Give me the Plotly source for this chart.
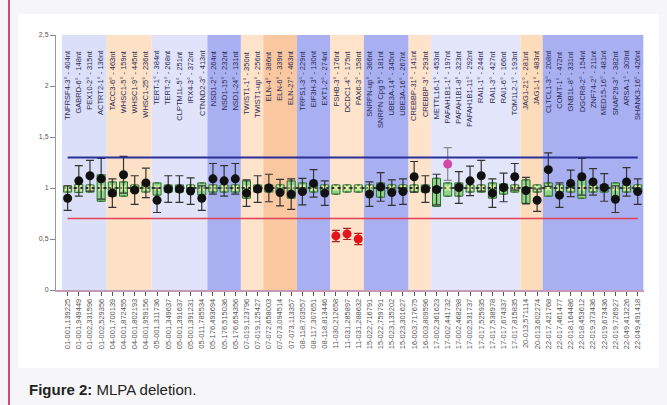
import plotly.graph_objects as go

# ---------------- data ----------------
probes = [
    "TNFRSF4-3° - 404nt", "GABRD-6° - 148nt", "PEX10-2° - 315nt", "ACTRT2-1° - 136nt",
    "TACC3-6° - 463nt", "WHSC1-5° - 159nt", "WHSC1-9° - 445nt", "WHSC1-25° - 236nt",
    "TERT-1° - 384nt", "TERT-2° - 268nt", "CLPTM1L-5° - 251nt", "IRX4-3° - 372nt", "CTNND2-3° - 413nt",
    "NSD1-2° - 264nt", "NSD1-15° - 232nt", "NSD1-24° - 131nt",
    "TWIST1-1° - 350nt", "TWIST1-up° - 256nt",
    "ELN-4° - 386nt", "ELN-6° - 339nt", "ELN-27° - 463nt",
    "TRPS1-3° - 229nt", "EIF3H-3° - 130nt", "EXT1-2° - 274nt",
    "FSHB-3° - 176nt", "DCDC1-4° - 175nt", "PAX6-3° - 158nt",
    "SNRPN-up° - 366nt", "SNRPN Cpg 5° - 181nt", "UBE3A-14° - 345nt", "UBE3A-16° - 267nt",
    "CREBBP-31° - 141nt", "CREBBP-3° - 293nt",
    "METTL16-1° - 453nt", "PAFAH1B1-1° - 197nt", "PAFAH1B1-8° - 323nt", "PAFAH1B1-11° - 292nt",
    "RAI1-1° - 244nt", "RAI1-3° - 427nt", "RAI1-6° - 166nt", "TOM1L2-1° - 193nt",
    "JAG1-21° - 281nt", "JAG1-1° - 483nt",
    "CLTCL1-3° - 208nt", "COMT-1° - 472nt", "GNB1L-8° - 331nt", "DGCR8-2° - 154nt",
    "ZNF74-2° - 211nt", "MED15-16° - 481nt", "SNAP29-3° - 382nt", "ARSA-1° - 309nt",
    "SHANK3-16° - 426nt",
]

positions = [
    "01-001,139225", "01-001,949449", "01-002,331596", "01-002,529356",
    "04-001,700139", "04-001,872455", "04-001,802193", "04-001,959156",
    "05-001,311736", "05-001,349637", "05-001,391637", "05-001,391231", "05-011,785534",
    "05-176,493694", "05-176,515036", "05-176,654356",
    "07-019,123796", "07-019,125427",
    "07-072,658003", "07-073,094514", "07-073,113357",
    "08-118,703557", "08-117,307651", "08-118,813446",
    "11-030,212658", "11-031,285897", "11-031,288632",
    "15-022,716791", "15-022,759791", "15-023,135202", "15-023,301627",
    "16-003,717675", "16-003,809596",
    "17-002,361623", "17-002,441732", "17-002,468298", "17-002,531737",
    "17-017,525935", "17-017,538978", "17-017,674337", "17-017,815835",
    "20-013,571114", "20-013,602274",
    "22-017,421768", "22-017,461477", "22-018,164486", "22-018,453612",
    "22-019,373436", "22-019,673436", "22-019,726927", "22-049,413226",
    "22-049,491418",
]

band_sizes = [4, 4, 5, 3, 2, 3, 3, 3, 4, 2, 8, 2, 9]
band_colors = ["#dbe0f8", "#fde1c6", "#e0e3f9", "#a9b0f1", "#fde3ca", "#f9c8a0",
               "#a9b0f1", "#fde3ca", "#a9b0f1", "#fde3ca", "#e3e5fa", "#fddcbc", "#a9b0f1"]

# sample ratios (black dots) and their 95% CI half widths
sample_ratio = [0.90, 1.07, 1.12, 1.09, 0.95, 1.13, 0.98, 1.05,
                0.88, 0.99, 0.99, 0.97, 0.90, 1.09, 1.07, 1.09,
                0.95, 0.99, 1.00, 0.955, 0.94, 0.965, 1.045, 0.95,
                0.53, 0.55, 0.50,
                0.94, 1.01, 0.955, 0.965, 1.11, 0.99, 0.985,
                1.235, 1.005, 1.07, 1.12, 0.95, 1.005, 1.11, 0.975,
                0.88, 1.18, 0.93, 1.045, 1.11, 1.06, 1.005, 0.89, 1.06, 0.965]
sample_err = [0.12, 0.15, 0.15, 0.20, 0.14, 0.18, 0.14, 0.145,
              0.12, 0.13, 0.13, 0.13, 0.12, 0.15, 0.15, 0.15,
              0.13, 0.13, 0.135, 0.13, 0.15, 0.13, 0.135, 0.12,
              0.055, 0.055, 0.055,
              0.12, 0.14, 0.125, 0.125, 0.15, 0.13, 0.15,
              0.16, 0.155, 0.145, 0.15, 0.14, 0.14, 0.13, 0.13,
              0.11, 0.165, 0.12, 0.13, 0.18, 0.13, 0.135, 0.13, 0.14, 0.125]
# status: 0 normal, 1 deletion, 2 gain-like (pink)
status = [0] * 24 + [1, 1, 1] + [0] * 7 + [2] + [0] * 17

# reference sample boxes
ref_q1 = [0.96, 0.955, 0.96, 0.87, 0.92, 0.92, 0.96, 0.96,
          0.93, 0.96, 0.96, 0.96, 0.93, 0.96, 0.96, 0.96,
          0.90, 0.96, 0.96, 0.96, 0.90, 0.95, 0.96, 0.96,
          0.94, 0.96, 0.96,
          0.96, 0.91, 0.96, 0.96, 0.96, 0.96, 0.82,
          0.92, 0.92, 0.96, 0.96, 0.90, 0.94, 0.96, 0.85,
          0.96, 0.92, 0.96, 0.96, 0.90, 0.96, 0.96, 0.91, 0.96, 0.96]
ref_med = [1.0] * 52
ref_q3 = [1.02, 1.035, 1.03, 1.13, 1.06, 1.06, 1.03, 1.03,
          1.05, 1.03, 1.03, 1.03, 1.05, 1.03, 1.03, 1.03,
          1.07, 1.03, 1.03, 1.03, 1.07, 1.05, 1.03, 1.03,
          1.03, 1.03, 1.03,
          1.03, 1.05, 1.03, 1.03, 1.03, 1.03, 1.095,
          1.05, 1.05, 1.03, 1.03, 1.05, 1.04, 1.03, 1.08,
          1.03, 1.05, 1.03, 1.03, 1.08, 1.03, 1.03, 1.05, 1.03, 1.03]

upper_limit = 1.3
lower_limit = 0.7

y_ticks = [0, 0.5, 1, 1.5, 2, 2.5]

# ---------------- figure ----------------
W, H = 667, 405
ML, MR, MT, MB = 56, 23, 35, 115
n = len(probes)
xs = list(range(n))
XMIN, XMAX = -1.04, n - 0.44
YMIN, YMAX = 0, 2.5
PW, PH = W - ML - MR, H - MT - MB


def px(xp):
    return (xp - ML) / PW


def py(yp):
    return (H - MB - yp) / PH


fig = go.Figure()

# median connecting dotted line
fig.add_trace(go.Scatter(x=xs, y=ref_med, mode="lines",
                         line=dict(color="#111", width=1.5, dash="dot"),
                         hoverinfo="skip", showlegend=False))

fig.add_trace(go.Box(x=xs, q1=ref_q1, median=ref_med, q3=ref_q3,
                     lowerfence=ref_q1, upperfence=ref_q3,
                     width=0.72, fillcolor="#8fd68a",
                     line=dict(color="#2e6e2e", width=1),
                     boxpoints=False, showlegend=False))

fig.add_trace(go.Scatter(x=xs, y=ref_med, mode="markers",
                         marker=dict(symbol="x-thin", size=5,
                                     line=dict(color="#f4f0a8", width=1.5)),
                         hoverinfo="skip", showlegend=False))

colors_by_status = {0: "#111111", 1: "#e3141c", 2: "#d24aa8"}
errc_by_status = {0: "#333333", 1: "#b02020", 2: "#888888"}
for s in (0, 1, 2):
    idx = [i for i in xs if status[i] == s]
    fig.add_trace(go.Scatter(
        x=idx, y=[sample_ratio[i] for i in idx], mode="markers",
        marker=dict(size=9, color=colors_by_status[s]),
        error_y=dict(type="data", array=[sample_err[i] for i in idx],
                     color=errc_by_status[s], thickness=1.2, width=4),
        showlegend=False))

shapes = []
# white chart image area on light frame
shapes.append(dict(type="rect", xref="paper", yref="paper",
                   x0=px(18), x1=px(659), y0=py(368), y1=py(14),
                   fillcolor="white", line=dict(width=0), layer="below"))
shapes.append(dict(type="line", xref="paper", yref="paper",
                   x0=px(9), x1=px(9), y0=py(0), y1=py(H),
                   line=dict(color="#cc4a7c", width=2), layer="below"))
start = 0
for size, col in zip(band_sizes, band_colors):
    shapes.append(dict(type="rect", xref="x", yref="y",
                       x0=start - 0.5, x1=start + size - 0.5, y0=YMIN, y1=YMAX,
                       fillcolor=col, line=dict(width=0), layer="below"))
    start += size
shapes.append(dict(type="line", xref="x", yref="y", x0=0, x1=n - 1,
                   y0=upper_limit, y1=upper_limit,
                   line=dict(color="#2b2f98", width=2)))
shapes.append(dict(type="line", xref="x", yref="y", x0=0, x1=n - 1,
                   y0=lower_limit, y1=lower_limit,
                   line=dict(color="#e24058", width=1.5)))

annotations = []
for i, p in enumerate(probes):
    annotations.append(dict(x=i, y=2.37, xref="x", yref="y", text=p,
                            textangle=-90, showarrow=False,
                            xanchor="center", yanchor="top",
                            font=dict(family="Liberation Sans", size=7.5, color="#2a2a55")))
annotations.append(dict(x=px(27), y=py(389), xref="paper", yref="paper",
                        text="<b>Figure 2:</b> MLPA deletion.", showarrow=False,
                        xanchor="left", yanchor="middle",
                        font=dict(family="Liberation Sans", size=15, color="#222")))

fig.update_layout(
    width=W, height=H,
    margin=dict(l=ML, r=MR, t=MT, b=MB),
    paper_bgcolor="#f6f6f8", plot_bgcolor="white",
    separators=",.",
    shapes=shapes, annotations=annotations,
    xaxis=dict(range=[XMIN, XMAX], tickvals=xs, ticktext=positions,
               tickangle=-90, ticks="outside", ticklen=4, tickcolor="#555",
               showgrid=False, zeroline=False, showline=True,
               linecolor="#c49ab6", linewidth=1.5,
               tickfont=dict(family="Liberation Sans", size=7.5, color="#555")),
    yaxis=dict(range=[YMIN, YMAX], tickvals=y_ticks, ticks="outside", ticklen=5,
               tickcolor="#888", showgrid=False, zeroline=False, showline=True,
               linecolor="#999", linewidth=1,
               tickfont=dict(family="Liberation Sans", size=7, color="#555")),
)

fig.write_html("out.html", config={"displayModeBar": False},
               post_script="document.body.style.margin='0';document.body.style.overflow='hidden';")
